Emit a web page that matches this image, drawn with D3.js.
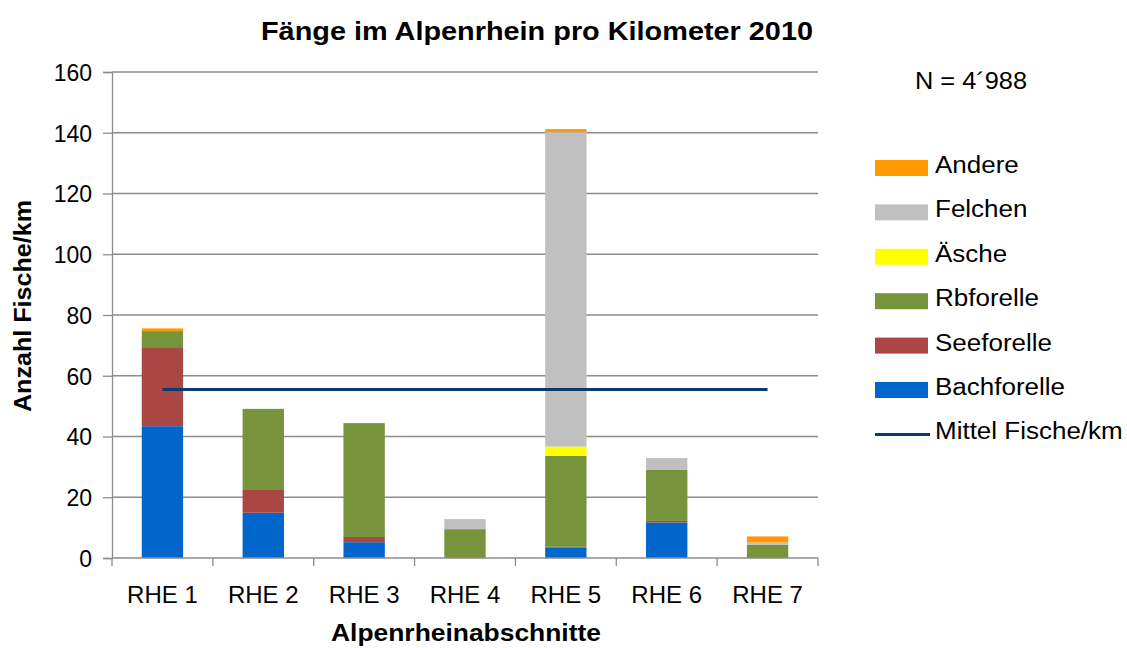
<!DOCTYPE html>
<html><head><meta charset="utf-8">
<script src="https://cdn.jsdelivr.net/npm/d3@7"></script>
<style>body{margin:0;background:#fff}svg{display:block;font-family:"Liberation Sans",Arial,sans-serif}</style>
</head><body><svg id="c" width="1127" height="648"></svg>
<script>
const categories = ["RHE 1","RHE 2","RHE 3","RHE 4","RHE 5","RHE 6","RHE 7"];
const bachforelle = [43.4,14.9,5.2,0,3.4,11.7,0];
const seeforelle  = [26.0,7.5,1.7,0,0.3,0.5,0];
const rbforelle   = [5.3,26.7,37.5,9.5,29.9,16.9,4.3];
const aesche      = [0,0,0,0,3.1,0,0];
const felchen     = [0,0,0,3.3,103.5,3.8,0.8];
const andere      = [0.9,0,0,0,1.0,0,2.0];
const mittel      = [55.5,55.5,55.5,55.5,55.5,55.5,55.5];
const yTicks = [0,20,40,60,80,100,120,140,160];
const seriesNames = ["Bachforelle","Seeforelle","Rbforelle","Äsche","Felchen","Andere"];
const seriesColors = ["#0066CC","#AA4643","#77933C","#FFFF00","#C0C0C0","#FF9900"];
const title = "Fänge im Alpenrhein pro Kilometer 2010";
const yTitle = "Anzahl Fische/km";
const xTitle = "Alpenrheinabschnitte";
const nLabel = "N = 4´988";

const svg = d3.select("#c");
const L=112,R=818,T=72,B=558;
const x = d3.scaleBand().domain(categories).range([L,R]).paddingInner(0.59).paddingOuter(0.295);
const y = d3.scaleLinear().domain([0,160]).range([B,T]);

const seriesData = [bachforelle,seeforelle,rbforelle,aesche,felchen,andere];
const table = categories.map((c,i)=>{const o={cat:c};seriesNames.forEach((s,j)=>o[s]=seriesData[j][i]);return o;});
const stack = d3.stack().keys(seriesNames)(table);

// gridlines
svg.append("g").selectAll("line").data(yTicks.filter(d=>d>0)).join("line")
  .attr("x1",L).attr("x2",R).attr("y1",d=>y(d)).attr("y2",d=>y(d))
  .attr("stroke","#8c8c8c").attr("stroke-width",1.3);

// bars
stack.forEach((layer,j)=>{
  svg.append("g").attr("fill",seriesColors[j]).selectAll("rect").data(layer).join("rect")
    .attr("x",d=>x(d.data.cat)).attr("width",x.bandwidth())
    .attr("y",d=>y(d[1])).attr("height",d=>Math.max(0,y(d[0])-y(d[1])));
});

// axes
const yAxis = svg.append("g").attr("transform",`translate(${L},0)`)
  .call(d3.axisLeft(y).tickValues(yTicks).tickSize(9).tickPadding(11));
yAxis.select(".domain").attr("stroke","#8c8c8c").attr("stroke-width",1.3);
yAxis.selectAll(".tick line").attr("stroke","#8c8c8c").attr("stroke-width",1.3);
yAxis.selectAll(".tick text").attr("font-size",23).attr("fill","#000").attr("dy","0.36em").attr("font-family","Liberation Sans, Arial");

const step = (R-L)/categories.length;
const xg = svg.append("g");
xg.append("line").attr("x1",L).attr("x2",R).attr("y1",B).attr("y2",B).attr("stroke","#8c8c8c").attr("stroke-width",1.5);
xg.selectAll("line.t").data(d3.range(categories.length+1)).join("line").attr("class","t")
  .attr("x1",i=>L+i*step).attr("x2",i=>L+i*step).attr("y1",B).attr("y2",B+8)
  .attr("stroke","#8c8c8c").attr("stroke-width",1.3);
xg.selectAll("text").data(categories).join("text")
  .attr("x",d=>x(d)+x.bandwidth()/2).attr("y",603).attr("text-anchor","middle")
  .attr("font-size",24).text(d=>d);

// mean line
const line = d3.line().x((d,i)=>x(categories[i])+x.bandwidth()/2).y(d=>y(d));
svg.append("path").datum(mittel).attr("d",line).attr("fill","none")
  .attr("stroke","#0B3A6B").attr("stroke-width",3);

// titles
svg.append("text").attr("x",537).attr("y",40).attr("text-anchor","middle")
  .attr("font-size",26).attr("font-weight","bold").attr("textLength",552).attr("lengthAdjust","spacingAndGlyphs").text(title);
svg.append("text").attr("transform","translate(31,306) rotate(-90)").attr("text-anchor","middle")
  .attr("font-size",23).attr("font-weight","bold").attr("textLength",212).attr("lengthAdjust","spacingAndGlyphs").text(yTitle);
svg.append("text").attr("x",466).attr("y",641).attr("text-anchor","middle")
  .attr("font-size",23).attr("font-weight","bold").attr("textLength",270).attr("lengthAdjust","spacingAndGlyphs").text(xTitle);
svg.append("text").attr("x",971).attr("y",89).attr("text-anchor","middle")
  .attr("font-size",23).attr("textLength",112).attr("lengthAdjust","spacingAndGlyphs").text(nLabel);

// legend
const legendItems = seriesNames.map((n,j)=>({name:n,color:seriesColors[j],type:"rect"})).reverse();
legendItems.push({name:"Mittel Fische/km",color:"#0B3A6B",type:"line"});
const lg = svg.append("g");
legendItems.forEach((it,i)=>{
  const cy = 168 + i*44.4;
  if(it.type==="rect") lg.append("rect").attr("x",875).attr("y",cy-8).attr("width",53).attr("height",16).attr("fill",it.color);
  else lg.append("line").attr("x1",875).attr("x2",930).attr("y1",cy).attr("y2",cy).attr("stroke",it.color).attr("stroke-width",3);
  const t = lg.append("text").attr("x",935).attr("y",cy+5).attr("font-size",23).text(it.name);
  const w = t.node().getComputedTextLength();
  t.attr("textLength",w*1.13).attr("lengthAdjust","spacingAndGlyphs");
});
</script></body></html>
